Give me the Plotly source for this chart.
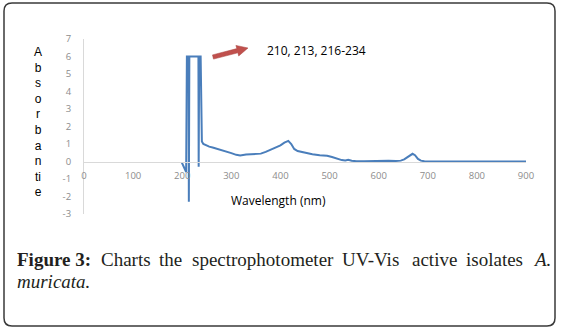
import plotly.graph_objects as go

# ---- data ----
wavelength = [199, 202, 205, 208, 209.5, 213, 213.5, 214.5, 233, 233.5, 234.5, 237.5, 238.5,
              240, 243, 248, 255, 262, 270, 280, 290, 300, 310, 318, 330, 345, 360, 370,
              380, 390, 400, 408, 416, 422, 428, 435, 450, 465, 480, 495, 505, 515, 525,
              532, 538, 545, 555, 570, 590, 600, 610, 620, 635, 645, 652, 658, 664, 669,
              674, 680, 686, 693, 705, 750, 800, 850, 900]
absorbance = [-0.05, -0.25, -0.45, -0.6, 6, 6, -2.3, 6, 6, -0.3, 6, 6, 1.4,
              1.15, 1.0, 0.92, 0.85, 0.8, 0.74, 0.66, 0.58, 0.48, 0.38, 0.34, 0.4, 0.41, 0.45, 0.55,
              0.68, 0.8, 0.92, 1.08, 1.18, 1.0, 0.72, 0.6, 0.5, 0.42, 0.36, 0.33, 0.26, 0.16, 0.08,
              0.06, 0.1, 0.04, 0.01, 0.01, 0.02, 0.04, 0.06, 0.04, 0.03, 0.05, 0.12, 0.25, 0.38, 0.44,
              0.36, 0.15, 0.05, 0.01, 0.0, 0.0, 0.0, 0.0, 0.0]
x_ticks = [0, 100, 200, 300, 400, 500, 600, 700, 800, 900]
y_ticks = [7, 6, 5, 4, 3, 2, 1, 0, -1, -2, -3]
y_title_letters = ["A", "b", "s", "o", "r", "b", "a", "n", "ti", "e"]
peak_note = "210, 213, 216-234"
x_title = "Wavelength (nm)"
caption_words = ["<b>Figure 3:</b>", "Charts", "the", "spectrophotometer", "UV-Vis",
                 "active", "isolates", "<i>A.</i>"]
caption_line2 = "<i>muricata.</i>"

# ---- layout geometry (pixels) ----
W, H = 561, 332
PL, PR, PT, PB = 84, 526, 39, 214  # plot area


def px(x):
    return (x - PL) / (PR - PL)


def py(y):
    return (PB - y) / (PB - PT)


fig = go.Figure()
fig.add_trace(go.Scatter(x=wavelength, y=absorbance, mode="lines",
                         line=dict(color="#4a7ebb", width=2), hoverinfo="skip",
                         showlegend=False))

tick_font = dict(family="Open Sans", size=9.5, color="#8c8c8c")
fig.update_layout(
    width=W, height=H,
    margin=dict(l=PL, r=W - PR, t=PT, b=H - PB, pad=0),
    paper_bgcolor="white", plot_bgcolor="white",
    showlegend=False,
    xaxis=dict(range=[0, 900], tickvals=x_ticks, ticktext=[str(v) for v in x_ticks],
               anchor="free", position=0.3, showline=True, linecolor="#d9d9d9",
               linewidth=1, showgrid=False, zeroline=False, ticks="",
               tickfont=tick_font, ticklabelstandoff=5),
    yaxis=dict(range=[-3, 7], tickvals=y_ticks, ticktext=[str(v) for v in y_ticks],
               showline=True, linecolor="#d9d9d9", linewidth=1, showgrid=False,
               zeroline=False, ticks="", tickfont=tick_font, ticklabelstandoff=10),
)

annotations = []
# vertical axis title, letter by letter
annotations.append(dict(text="<br>".join(y_title_letters), x=px(38), y=py(122.5),
                        xref="paper", yref="paper", showarrow=False, xanchor="center",
                        yanchor="middle", align="center",
                        font=dict(family="Liberation Sans", size=12, color="#000000")))
annotations.append(dict(text=x_title, x=px(278), y=py(200), xref="paper", yref="paper",
                        showarrow=False, xanchor="center", yanchor="middle",
                        font=dict(family="Open Sans", size=12, color="#000000")))
annotations.append(dict(text=peak_note, x=px(265), y=py(50.5), xref="paper", yref="paper",
                        showarrow=False, xanchor="left", yanchor="middle",
                        font=dict(family="Open Sans", size=12, color="#000000")))

# caption, justified word by word
word_x = [15, 98.6, 157.4, 189.8, 340.4, 409.8, 464.4, 530.6]
cap_font = dict(family="Liberation Serif", size=19, color="#231f20")
for wtxt, wx in zip(caption_words, word_x):
    annotations.append(dict(text=wtxt, x=px(wx), y=py(259.5), xref="paper", yref="paper",
                            showarrow=False, xanchor="left", yanchor="middle", font=cap_font))
annotations.append(dict(text=caption_line2, x=px(15), y=py(281.5), xref="paper", yref="paper",
                        showarrow=False, xanchor="left", yanchor="middle", font=cap_font))
fig.update_layout(annotations=annotations)

# red block arrow
arrow_px = [(213.5, 59.1), (237.9, 52.8), (238.7, 56.0), (248.0, 48.0), (235.9, 45.4),
            (236.8, 48.6), (212.5, 54.9)]
path = "M " + " L ".join(f"{px(a):.5f},{py(b):.5f}" for a, b in arrow_px) + " Z"
fig.add_shape(type="path", path=path, xref="paper", yref="paper",
              fillcolor="#c0504d", line=dict(color="#a9403d", width=0.5))

# rounded frame around figure
x0, y0, x1, y1, r = 4, 3, 555, 326, 8
frame = (f"M {px(x0 + r)},{py(y0)} L {px(x1 - r)},{py(y0)} "
         f"Q {px(x1)},{py(y0)} {px(x1)},{py(y0 + r)} L {px(x1)},{py(y1 - r)} "
         f"Q {px(x1)},{py(y1)} {px(x1 - r)},{py(y1)} L {px(x0 + r)},{py(y1)} "
         f"Q {px(x0)},{py(y1)} {px(x0)},{py(y1 - r)} L {px(x0)},{py(y0 + r)} "
         f"Q {px(x0)},{py(y0)} {px(x0 + r)},{py(y0)} Z")
fig.add_shape(type="path", path=frame, xref="paper", yref="paper",
              line=dict(color="#3a3a3a", width=1.5), fillcolor="rgba(0,0,0,0)")

fig.write_html("out.html", config={"displayModeBar": False},
               post_script="document.body.style.margin='0';")
